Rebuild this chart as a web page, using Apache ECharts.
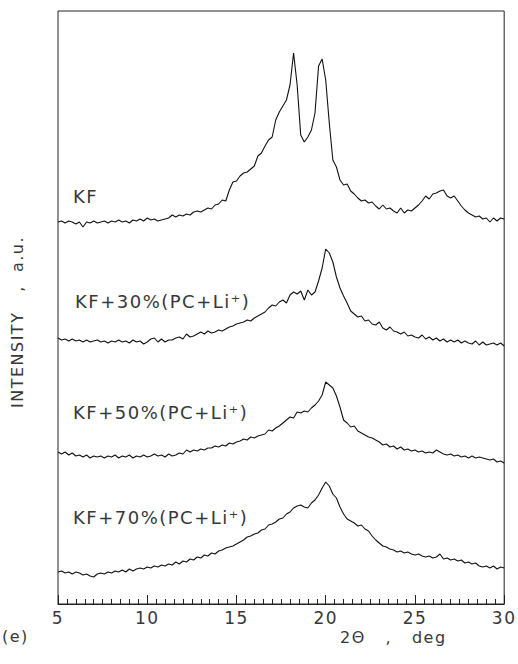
<!DOCTYPE html>
<html>
<head>
<meta charset="utf-8">
<script src="https://cdn.jsdelivr.net/npm/echarts@6/dist/echarts.min.js"></script>
<style>
  html, body { margin: 0; padding: 0; background: #ffffff; }
  #chart { width: 518px; height: 664px; }
  /* plotter-style lettering: wide tracking, spaces kept as typed */
  #chart svg text { letter-spacing: 1.5px; white-space: pre; }
</style>
</head>
<body>
<div id="chart"></div>
<script>
// Diffraction angle 2θ (deg), sampled every 0.2°
const twoTheta = [
  5.0, 5.2, 5.4, 5.6, 5.8, 6.0, 6.2, 6.4, 6.6, 6.8,
  7.0, 7.2, 7.4, 7.6, 7.8, 8.0, 8.2, 8.4, 8.6, 8.8,
  9.0, 9.2, 9.4, 9.6, 9.8, 10.0, 10.2, 10.4, 10.6, 10.8,
  11.0, 11.2, 11.4, 11.6, 11.8, 12.0, 12.2, 12.4, 12.6, 12.8,
  13.0, 13.2, 13.4, 13.6, 13.8, 14.0, 14.2, 14.4, 14.6, 14.8,
  15.0, 15.2, 15.4, 15.6, 15.8, 16.0, 16.2, 16.4, 16.6, 16.8,
  17.0, 17.2, 17.4, 17.6, 17.8, 18.0, 18.2, 18.4, 18.6, 18.8,
  19.0, 19.2, 19.4, 19.6, 19.8, 20.0, 20.2, 20.4, 20.6, 20.8,
  21.0, 21.2, 21.4, 21.6, 21.8, 22.0, 22.2, 22.4, 22.6, 22.8,
  23.0, 23.2, 23.4, 23.6, 23.8, 24.0, 24.2, 24.4, 24.6, 24.8,
  25.0, 25.2, 25.4, 25.6, 25.8, 26.0, 26.2, 26.4, 26.6, 26.8,
  27.0, 27.2, 27.4, 27.6, 27.8, 28.0, 28.2, 28.4, 28.6, 28.8,
  29.0, 29.2, 29.4, 29.6, 29.8, 30.0
];

// Intensity (a.u.) of each pattern, already offset vertically for stacking
const kfPure = [
  382, 383, 381, 383, 382, 380, 382, 377, 382, 381,
  383, 381, 382, 383, 381, 383, 382, 384, 382, 383,
  381, 384, 383, 385, 383, 386, 384, 385, 383, 384,
  385, 386, 389, 387, 389, 388, 390, 389, 392, 393,
  392, 394, 396, 395, 399, 400, 404, 403, 414, 422,
  423, 428, 431, 432, 435, 438, 448, 451, 458, 464,
  467, 484, 492, 498, 504, 519, 551, 519, 469, 462,
  467, 474, 491, 538, 545, 524, 481, 444, 437, 424,
  419, 420, 413, 410, 406, 403, 404, 401, 402, 398,
  395, 399, 395, 396, 393, 391, 396, 391, 394, 393,
  396, 399, 403, 408, 405, 410, 411, 413, 414, 408,
  406, 408, 403, 398, 394, 391, 389, 387, 388, 385,
  386, 382, 386, 383, 386, 385
];

const kf30 = [
  266, 264, 265, 263, 265, 263, 264, 262, 264, 262,
  263, 264, 262, 263, 261, 263, 262, 264, 262, 263,
  261, 264, 262, 263, 260, 262, 265, 266, 262, 265,
  262, 264, 264, 266, 267, 265, 270, 267, 268, 270,
  272, 270, 273, 271, 272, 274, 273, 275, 277, 278,
  280, 281, 282, 284, 283, 286, 288, 290, 292, 296,
  299, 298, 302, 304, 301, 309, 312, 310, 313, 304,
  314, 309, 312, 323, 336, 355, 351, 342, 327, 316,
  308, 301, 293, 290, 287, 288, 283, 284, 280, 279,
  282, 276, 274, 277, 273, 272, 270, 272, 268, 269,
  267, 266, 269, 265, 267, 264, 266, 263, 265, 262,
  264, 262, 264, 261, 263, 261, 260, 263, 259, 262,
  259, 260, 261, 259, 261, 258
];

const kf50 = [
  152, 150, 152, 149, 151, 148, 149, 147, 149, 146,
  148, 147, 148, 146, 148, 147, 149, 146, 148, 147,
  149, 146, 148, 147, 149, 147, 148, 150, 148, 149,
  147, 150, 148, 149, 151, 150, 154, 152, 154, 153,
  155, 154, 156, 156, 158, 157, 159, 158, 161, 160,
  162, 163, 165, 164, 167, 166, 168, 169, 170, 174,
  173, 176, 178, 181, 184, 187, 186, 192, 191, 193,
  192, 196, 199, 203, 209, 222, 219, 216, 208, 197,
  184, 181, 177, 178, 173, 171, 169, 167, 166, 164,
  162, 159, 160, 157, 158, 155, 157, 154, 155, 153,
  154, 152, 153, 151, 152, 151, 154, 152, 150, 149,
  150, 148, 149, 147, 148, 146, 148, 146, 147, 146,
  145, 144, 145, 142, 143, 141
];

const kf70 = [
  32, 33, 31, 32, 30, 32, 31, 29, 30, 28,
  27, 30, 31, 30, 32, 31, 33, 32, 34, 32,
  35, 33, 35, 36, 35, 37, 36, 38, 37, 39,
  38, 40, 39, 42, 40, 43, 42, 45, 44, 47,
  46, 49, 48, 51, 50, 53, 54, 56, 57, 58,
  60, 62, 64, 67, 68, 70, 71, 74, 75, 79,
  80, 82, 85, 86, 90, 92, 96, 98, 99, 97,
  96, 101, 104, 109, 116, 122, 118, 110, 106, 97,
  90, 85, 83, 81, 78, 79, 75, 73, 68, 64,
  61, 58, 57, 55, 54, 52, 53, 51, 52, 50,
  49, 50, 48, 47, 48, 46, 47, 50, 45, 46,
  44, 45, 43, 44, 41, 42, 40, 41, 38, 37,
  38, 36, 38, 35, 37, 36
];

const sampleNames = ['KF', 'KF+30%(PC+Li⁺)', 'KF+50%(PC+Li⁺)', 'KF+70%(PC+Li⁺)'];
const patterns = [kfPure, kf30, kf50, kf70];

const xMin = 5, xMax = 30, xStep = 5;
const yMin = 0, yMax = 593;

const axisTitle = '2Θ   ,   deg';
const intensityTitle = 'INTENSITY   ,  a.u.';
const panelTag = '(e)';

const textFont = '"DejaVu Sans", "Liberation Sans", sans-serif';
const inkColor = '#111';
const textColor = '#383838';

// Label anchor for each pattern (pixel layout: left edge, vertical middle)
const labelPos = [[73, 196], [75, 301], [73, 412], [73, 517]];

const chart = echarts.init(document.getElementById('chart'), null, { renderer: 'svg' });

const series = patterns.map((vals, i) => ({
  name: sampleNames[i],
  type: 'line',
  data: twoTheta.map((t, k) => [t, vals[k]]),
  showSymbol: false,
  symbol: 'none',
  smooth: false,
  lineStyle: { color: inkColor, width: 1.1 },
  silent: true,
  animation: false
}));

const graphics = sampleNames.map((name, i) => ({
  type: 'text',
  x: labelPos[i][0],
  y: labelPos[i][1],
  style: {
    text: name,
    font: '18px ' + textFont,
    fill: textColor,
    align: 'left',
    verticalAlign: 'middle'
  },
  silent: true
}));

graphics.push({
  type: 'text',
  x: 2,
  y: 636,
  style: { text: panelTag, font: '16px ' + textFont, fill: textColor, align: 'left', verticalAlign: 'middle' }
});
graphics.push({
  type: 'text',
  x: 340,
  y: 637,
  style: { text: axisTitle, font: '16px ' + textFont, fill: textColor, align: 'left', verticalAlign: 'middle' }
});
graphics.push({
  type: 'text',
  x: 17,
  y: 322,
  rotation: Math.PI / 2,
  style: {
    text: intensityTitle,
    font: '16px ' + textFont,
    fill: textColor,
    align: 'center',
    verticalAlign: 'middle'
  }
});

chart.setOption({
  backgroundColor: '#ffffff',
  animation: false,
  grid: {
    left: 58, right: 13, top: 11, bottom: 60,
    show: true,
    borderColor: '#222',
    borderWidth: 1,
    containLabel: false
  },
  xAxis: {
    type: 'value',
    min: xMin,
    max: xMax,
    interval: xStep,
    axisLine: { show: true, lineStyle: { color: '#222', width: 1 } },
    axisTick: { show: true, inside: true, length: 9, lineStyle: { color: '#222', width: 1 } },
    minorTick: { show: true, splitNumber: 10, length: 5, lineStyle: { color: '#222', width: 1 } },
    splitLine: { show: false },
    minorSplitLine: { show: false },
    axisLabel: {
      color: textColor,
      fontFamily: textFont,
      fontSize: 17,
      margin: 5
    }
  },
  yAxis: {
    type: 'value',
    min: yMin,
    max: yMax,
    show: false,
    splitLine: { show: false }
  },
  series: series,
  graphic: graphics
});
</script>
</body>
</html>
